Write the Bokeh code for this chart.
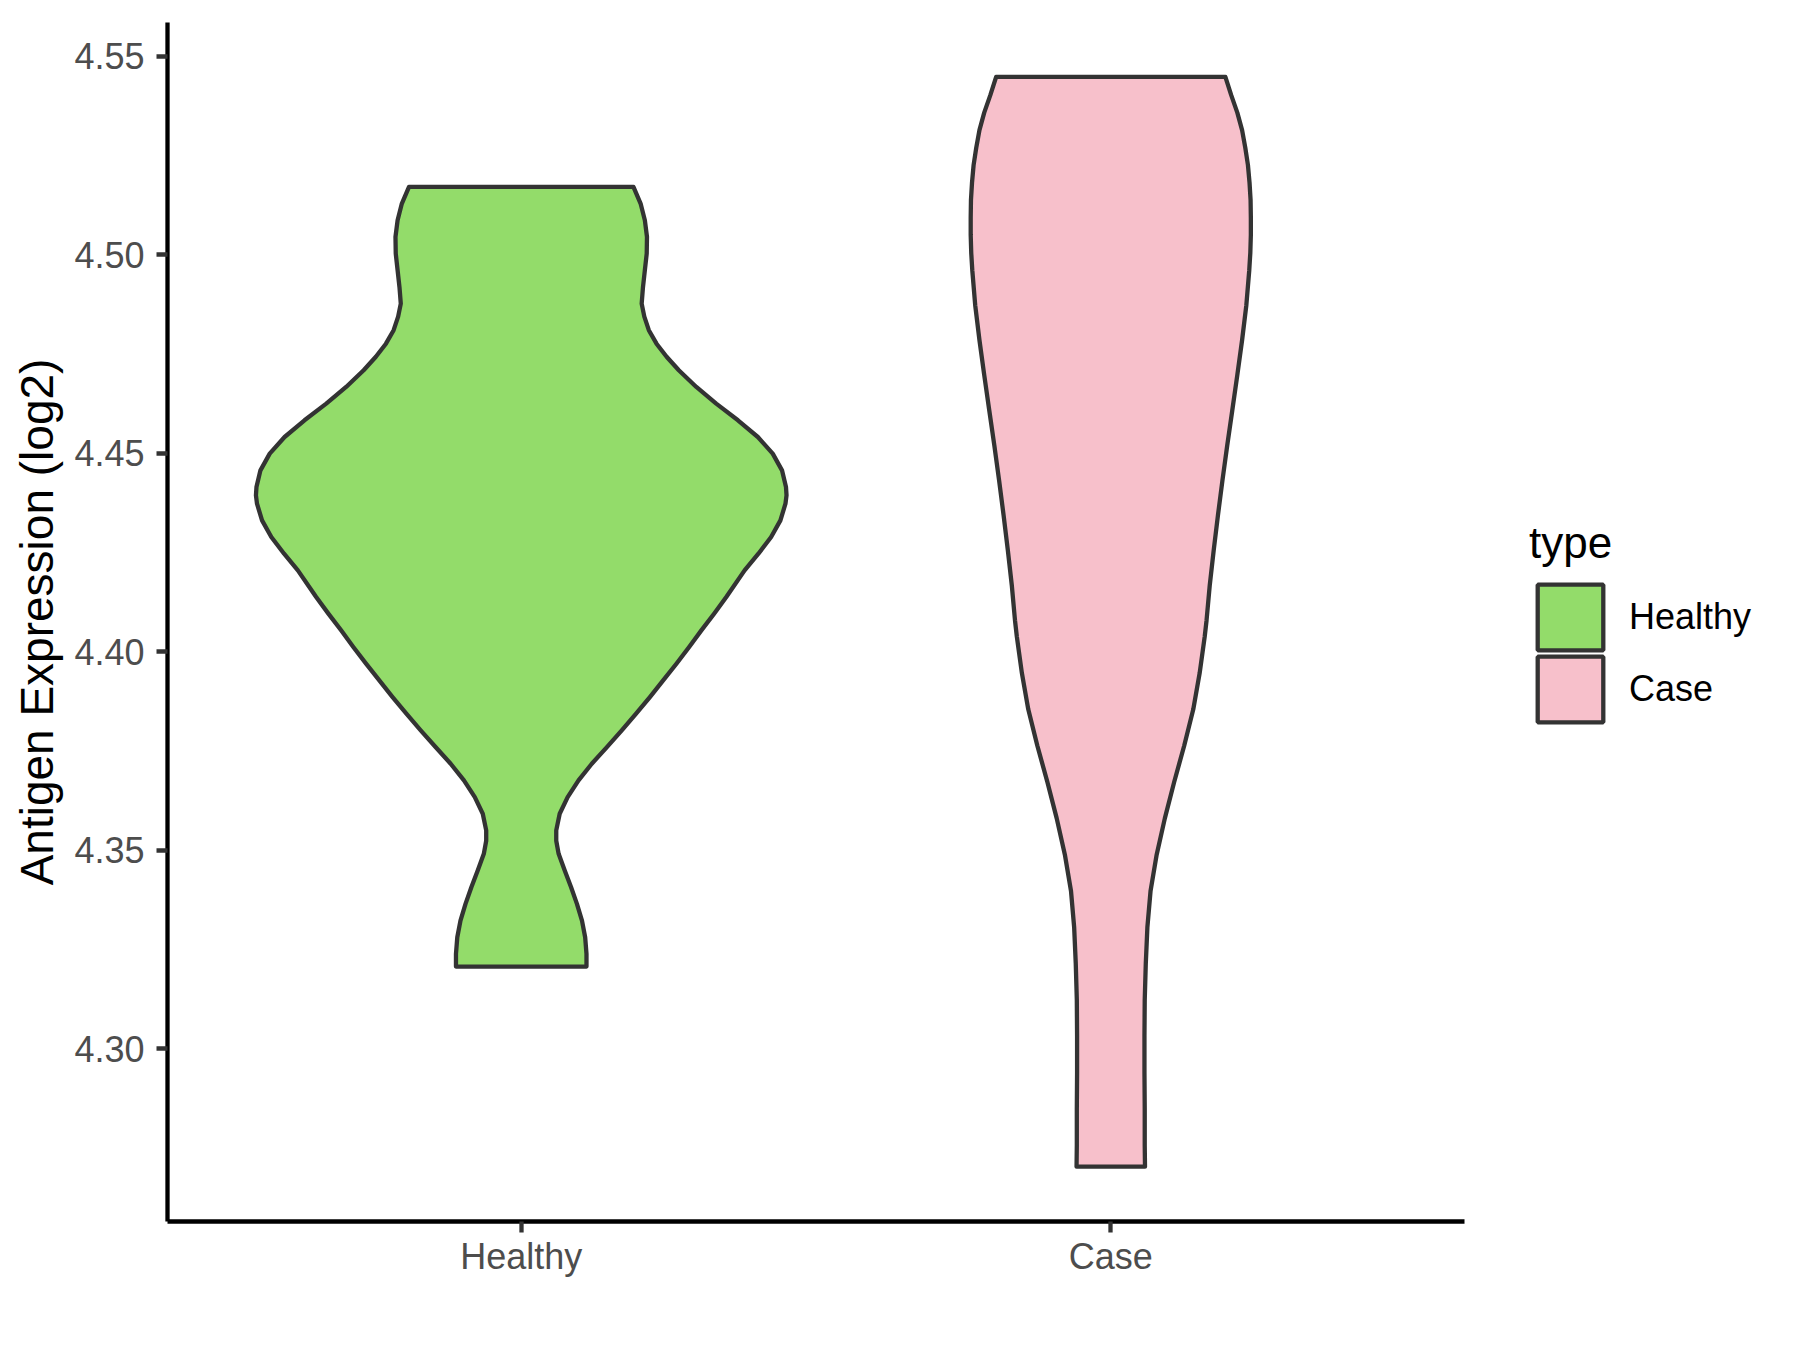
from bokeh.plotting import figure
from bokeh.layouts import row
from bokeh.models import Range1d, FixedTicker, Legend, LegendItem, PrintfTickFormatter
from bokeh.embed import file_html
from bokeh.resources import INLINE

# ---- data ----
categories = ["Healthy", "Case"]
positions = [1, 2]
fill_colors = ["#93DC6A", "#F7C0CB"]

# Healthy violin: y values and scaled density (relative half-width, max = 1)
healthy_y = [4.5171, 4.5129, 4.5087, 4.5045, 4.5003, 4.4961, 4.4919, 4.4877, 4.4844, 4.4810,
             4.4776, 4.4743, 4.4709, 4.4667, 4.4625, 4.4583, 4.4541, 4.4499, 4.4457, 4.4415,
             4.4394, 4.4373, 4.4331, 4.4289, 4.4247, 4.4205, 4.4138, 4.4096, 4.4054, 4.4012,
             4.3970, 4.3928, 4.3886, 4.3844, 4.3802, 4.3760, 4.3718, 4.3676, 4.3634, 4.3592,
             4.3550, 4.3524, 4.3491, 4.3449, 4.3407, 4.3365, 4.3323, 4.3281, 4.3239, 4.3207]
healthy_w = [0.423, 0.450, 0.466, 0.474, 0.473, 0.466, 0.459, 0.454, 0.464, 0.481,
             0.510, 0.548, 0.594, 0.660, 0.735, 0.817, 0.892, 0.948, 0.983, 0.998,
             1.000, 0.996, 0.977, 0.942, 0.894, 0.842, 0.773, 0.727, 0.679, 0.633,
             0.585, 0.535, 0.485, 0.433, 0.379, 0.323, 0.266, 0.216, 0.175, 0.145,
             0.132, 0.132, 0.141, 0.164, 0.188, 0.210, 0.229, 0.241, 0.246, 0.246]

# Case violin
case_y = [4.5448, 4.5402, 4.5358, 4.5314, 4.5270, 4.5226, 4.5182, 4.5138, 4.5094, 4.5050,
          4.5005, 4.4961, 4.4873, 4.4785, 4.4697, 4.4608, 4.4520, 4.4432, 4.4344, 4.4256,
          4.4167, 4.4079, 4.4038, 4.3946, 4.3855, 4.3764, 4.3672, 4.3581, 4.3489, 4.3398,
          4.3306, 4.3215, 4.3123, 4.3032, 4.2940, 4.2849, 4.2757, 4.2703]
case_w = [0.432, 0.454, 0.477, 0.495, 0.507, 0.517, 0.523, 0.527, 0.528, 0.528,
          0.526, 0.522, 0.511, 0.495, 0.477, 0.458, 0.439, 0.421, 0.404, 0.388,
          0.373, 0.361, 0.354, 0.335, 0.311, 0.277, 0.239, 0.204, 0.173, 0.150,
          0.138, 0.132, 0.128, 0.127, 0.127, 0.128, 0.128, 0.129]

y_ticks = [4.30, 4.35, 4.40, 4.45, 4.50, 4.55]
y_label = "Antigen Expression (log2)"
legend_title = "type"

violin_width = 0.45
FONT = "Liberation Sans"
OUTLINE = "#333333"
H = 1330


def violin_outline(pos, ys, ws):
    xs = [pos + violin_width * w for w in ws] + [pos - violin_width * w for w in reversed(ws)]
    yy = list(ys) + list(reversed(ys))
    return xs, yy


p = figure(width=1480, height=H, output_backend="svg", toolbar_location=None,
           x_range=Range1d(0.4, 2.6), y_range=Range1d(4.2565, 4.5585),
           min_border_left=167, min_border_right=16, min_border_top=22,
           min_border_bottom=109)
p.outline_line_color = None
p.xgrid.visible = False
p.ygrid.visible = False
p.background_fill_color = "white"
p.border_fill_color = "white"

for pos, ys, ws, col in zip(positions, [healthy_y, case_y], [healthy_w, case_w], fill_colors):
    xs, yy = violin_outline(pos, ys, ws)
    p.patch(xs, yy, fill_color=col, line_color=OUTLINE, line_width=4.3, line_join="round")

# axes
for ax in (p.xaxis[0], p.yaxis[0]):
    ax.axis_line_color = "black"
    ax.axis_line_width = 4.3
    ax.major_tick_line_color = OUTLINE
    ax.major_tick_line_width = 4.3
    ax.major_tick_out = 11
    ax.major_tick_in = 0
    ax.minor_tick_line_color = None
    ax.major_label_text_font = FONT
    ax.major_label_text_font_size = "36px"
    ax.major_label_text_color = "#4D4D4D"

p.xaxis.ticker = FixedTicker(ticks=positions)
p.xaxis.major_label_overrides = {pos: c for pos, c in zip(positions, categories)}
p.xaxis.major_label_standoff = 3

p.yaxis.ticker = FixedTicker(ticks=y_ticks)
p.yaxis.formatter = PrintfTickFormatter(format="%.2f")
p.yaxis.major_label_standoff = 12
p.yaxis.axis_label = y_label
p.yaxis.axis_label_text_font = FONT
p.yaxis.axis_label_text_font_size = "46px"
p.yaxis.axis_label_text_font_style = "normal"
p.yaxis.axis_label_text_color = "black"
p.yaxis.axis_label_standoff = 8

# ---- legend panel (separate figure, keys drawn by Bokeh's Legend) ----
lg = figure(width=300, height=H, output_backend="svg", toolbar_location=None,
            x_range=Range1d(10, 11), y_range=Range1d(0, 1),
            min_border_left=0, min_border_right=0, min_border_top=0, min_border_bottom=0)
lg.axis.visible = False
lg.xgrid.visible = False
lg.ygrid.visible = False
lg.outline_line_color = None
lg.background_fill_color = "white"
lg.border_fill_color = "white"

key_renderers = []
for pos, ys, ws, col in zip(positions, [healthy_y, case_y], [healthy_w, case_w], fill_colors):
    xs, yy = violin_outline(pos, ys, ws)  # lies outside this panel's range: only the key shows
    key_renderers.append(lg.patch(xs, yy, fill_color=col, line_color=OUTLINE, line_width=4.3))

common = dict(orientation="vertical", label_text_font=FONT, label_text_font_size="36px",
              label_text_color="black", glyph_width=82, glyph_height=82, label_standoff=18,
              padding=0, margin=0, border_line_color=None, background_fill_alpha=0)

leg1 = Legend(items=[LegendItem(label=categories[0], renderers=[key_renderers[0]])],
              location=(49, 563), title=legend_title, title_text_font=FONT,
              title_text_font_size="44px", title_text_font_style="normal",
              title_text_color="black", title_standoff=8, **common)
leg2 = Legend(items=[LegendItem(label=categories[1], renderers=[key_renderers[1]])],
              location=(49, 491), **common)
lg.add_layout(leg1, "center")
lg.add_layout(leg2, "center")

layout = row(p, lg)
open("out.html", "w").write(file_html(layout, INLINE))
